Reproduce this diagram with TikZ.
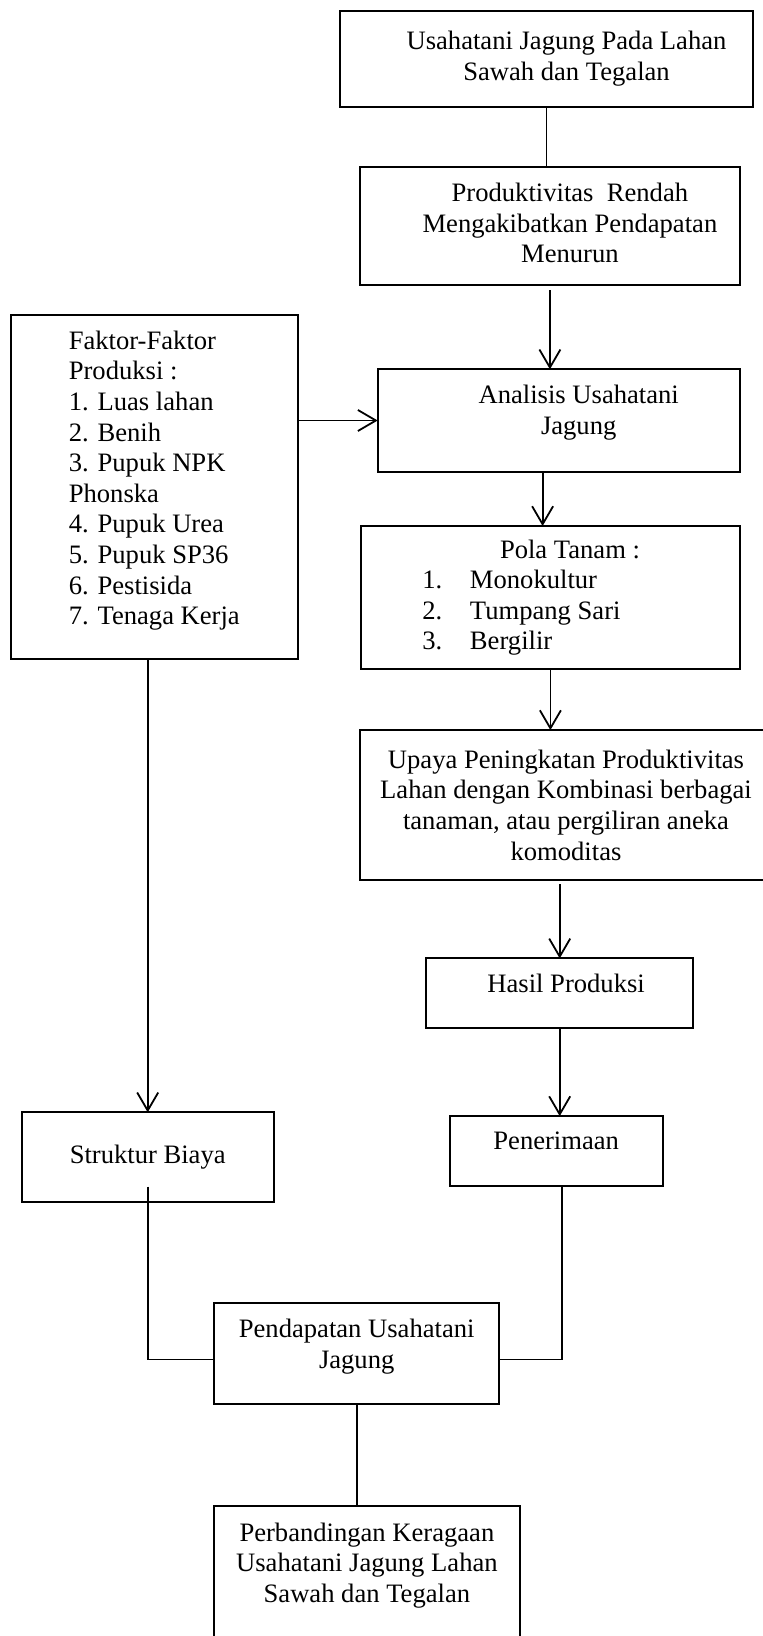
\documentclass[tikz,border=0pt]{standalone}
\usepackage{fontspec}
\setmainfont{Liberation Serif}
\usepackage{tikz}
\usetikzlibrary{arrows.meta,positioning}

% text block with extra room on the left and below
\newcommand{\padtext}[4][c]{\begin{tabular}{@{\hspace*{#2}}#1@{}}#4\\[#3]\end{tabular}}

\begin{document}
\begin{tikzpicture}[
    node distance=30pt,
    box/.style={
        draw,
        line width=1pt,
        align=center,
        inner sep=3pt,
        outer sep=0pt,
        font=\fontsize{13.3pt}{15.3pt}\selectfont
    },
    link/.style={line width=0.9pt},
    >={Straight Barb[length=9pt,width=10.5pt]}
]
\useasboundingbox (0,0) rectangle (381.5pt,-818pt);

% right column
\node[box, minimum width=206.8pt, minimum height=48pt] (usaha) at (273.25pt,-29.35pt)
    {\padtext{20pt}{0pt}{Usahatani Jagung Pada Lahan\\Sawah dan Tegalan}};
\node[box, minimum width=189.9pt, minimum height=59.3pt, below=30pt of usaha, xshift=1.7pt] (prod)
    {\padtext{20pt}{0pt}{Produktivitas\ \ Rendah\\Mengakibatkan Pendapatan\\Menurun}};
\node[box, minimum width=181pt, minimum height=51.2pt, below=42pt of prod, xshift=4.4pt] (anal)
    {\padtext{20pt}{7.7pt}{Analisis Usahatani\\Jagung}};
\node[box, align=left, minimum width=189.4pt, minimum height=71.7pt, below=27.15pt of anal, xshift=-4.15pt] (pola)
    {\makebox[128pt][l]{\hspace*{38.8pt}Pola Tanam :}\\
     \makebox[23.8pt][l]{1.}Monokultur\\
     \makebox[23.8pt][l]{2.}Tumpang Sari\\
     \makebox[23.8pt][l]{3.}Bergilir};
\node[box, minimum width=206pt, minimum height=75pt, below=30.35pt of pola, xshift=7.8pt] (upaya)
    {Upaya Peningkatan Produktivitas\\Lahan dengan Kombinasi berbagai\\tanaman, atau pergiliran aneka\\komoditas};
\node[box, minimum width=133.4pt, minimum height=35pt, below=39.15pt of upaya, xshift=-3.15pt] (hasil)
    {\padtext{6.4pt}{7.3pt}{Hasil Produksi}};
\node[box, minimum width=106.6pt, minimum height=35pt, below=43.85pt of hasil, xshift=-1.75pt] (pener)
    {\padtext{0pt}{7.7pt}{Penerimaan}};

% left column
\node[box, minimum width=143.6pt, minimum height=172pt, left=39.9pt of anal, yshift=-33.4pt] (faktor)
    {\padtext[l]{0pt}{6.5pt}{Faktor-Faktor\\Produksi :\\1. Luas lahan\\2. Benih\\3. Pupuk NPK\\Phonska\\4. Pupuk Urea\\5. Pupuk SP36\\6. Pestisida\\7. Tenaga Kerja}};
\node[box, minimum width=125.8pt, minimum height=44.7pt, below=226.5pt of faktor, xshift=-3.3pt] (struk)
    {Struktur Biaya};

% bottom
\node[box, minimum width=142.7pt, minimum height=50.7pt, below=50.5pt of struk, xshift=104.5pt] (pendap)
    {\padtext{0pt}{6.6pt}{Pendapatan Usahatani\\Jagung}};
\node[box, minimum width=152.9pt, inner ysep=8.5pt, text depth=60pt, below=50.85pt of pendap, xshift=5.1pt] (perb)
    {Perbandingan Keragaan\\Usahatani Jagung Lahan\\Sawah dan Tegalan};

\draw[link] (usaha.south) -- (usaha.south |- prod.north);
\draw[link, ->, shorten <=2.5pt] (prod.south) -- (prod.south |- anal.north);
\draw[link, ->] (faktor.east |- anal.west) -- (anal.west);
\draw[link, ->] ([xshift=-3.9pt]pola.north |- anal.south) -- ([xshift=-3.9pt]pola.north);
\draw[link, ->] (pola.south) -- (pola.south |- upaya.north);
\draw[link, ->, shorten <=2pt] (hasil.north |- upaya.south) -- (hasil.north);
\draw[link, ->] (hasil.south) -- (hasil.south |- pener.north);
\draw[link, ->] (struk.north |- faktor.south) -- (struk.north);

\draw[link] ([yshift=7.5pt]struk.south) |- ([yshift=-3pt]pendap.west);
\draw[link] ([xshift=3pt]pener.south) |- ([yshift=-3pt]pendap.east);
\draw[link] (pendap.south) -- (pendap.south |- perb.north);

\end{tikzpicture}
\end{document}
